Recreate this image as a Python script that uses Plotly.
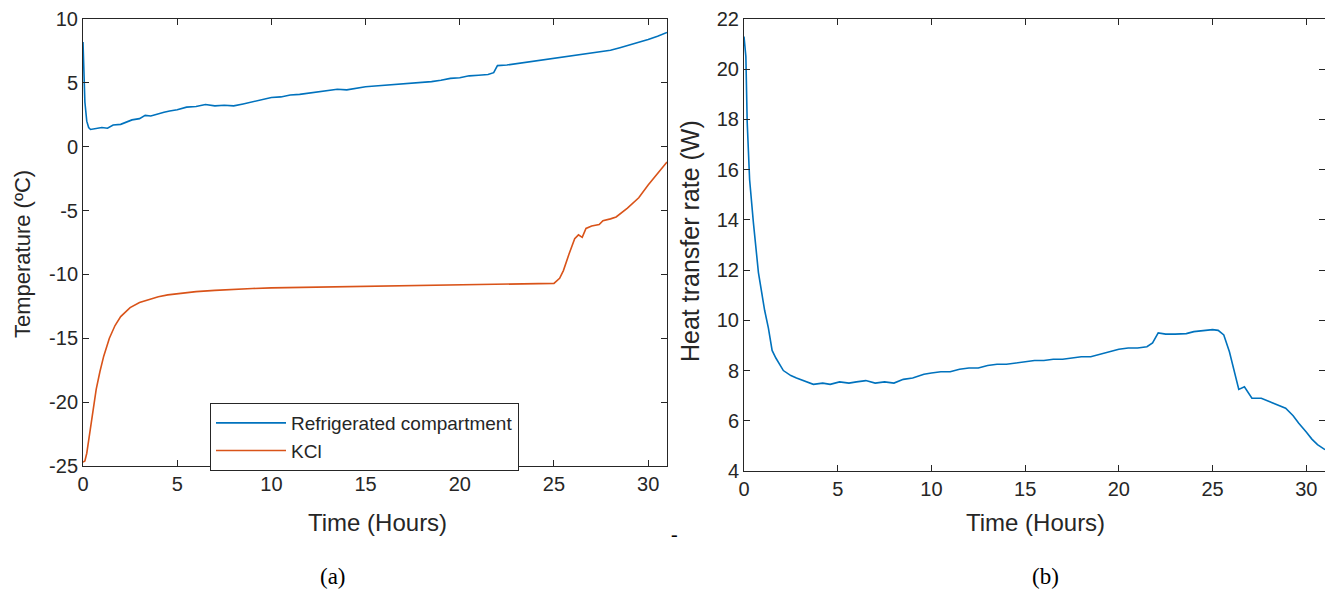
import plotly.graph_objects as go

# The page adds an 8 px body margin, so the figure is drawn 8 px in from the window corner.
OFF = 8
W, H = 1333 - OFF, 589 - OFF

# ---- Data ----
t_ref = [0, 0.05, 0.1, 0.2, 0.3, 0.4, 0.6, 0.8, 1.0, 1.3, 1.6, 2.0, 2.3, 2.6, 3.0, 3.3, 3.6, 4.0, 4.3, 4.6,
         5.0, 5.5, 6.0, 6.5, 7.0, 7.5, 8.0, 8.5, 9.0, 9.5, 10.0, 10.5, 11.0, 11.5, 12.0, 12.5, 13.0, 13.5,
         14.0, 14.5, 15.0, 15.5, 16.0, 16.5, 17.0, 17.5, 18.0, 18.5, 19.0, 19.5, 20.0, 20.5, 21.0, 21.5,
         21.8, 22.0, 22.5, 23.0, 23.5, 24.0, 24.5, 25.0, 25.5, 26.0, 26.5, 27.0, 27.5, 28.0, 28.5, 29.0,
         29.5, 30.0, 30.5, 31.0]
temp_ref = [8.2, 6.0, 3.5, 2.0, 1.5, 1.35, 1.4, 1.45, 1.5, 1.45, 1.7, 1.75, 1.95, 2.1, 2.2, 2.45, 2.4, 2.6, 2.7, 2.8,
            2.9, 3.1, 3.15, 3.3, 3.2, 3.25, 3.2, 3.35, 3.5, 3.7, 3.85, 3.9, 4.05, 4.1, 4.2, 4.3, 4.35, 4.5,
            4.45, 4.6, 4.7, 4.75, 4.8, 4.85, 4.9, 4.95, 5.0, 5.1, 5.2, 5.35, 5.4, 5.55, 5.6, 5.65,
            5.8, 6.35, 6.4, 6.5, 6.6, 6.7, 6.8, 6.9, 7.05, 7.1, 7.2, 7.35, 7.45, 7.55, 7.75, 7.95,
            8.15, 8.4, 8.65, 8.95]

t_kcl = [0, 0.1, 0.2, 0.3, 0.5, 0.7, 0.9, 1.1, 1.4, 1.7, 2.0, 2.5, 3.0, 3.5, 4.0, 4.5, 5.0, 6.0, 7.0, 8.0,
         9.0, 10.0, 12.0, 14.0, 16.0, 18.0, 20.0, 22.0, 24.0, 25.0, 25.3, 25.5, 25.8, 26.1, 26.3, 26.5,
         26.7, 27.0, 27.4, 27.6, 28.0, 28.3, 28.9, 29.5, 30.0, 30.5, 31.0]
temp_kcl = [-24.7, -24.6, -24.0, -23.0, -20.8, -19.0, -17.6, -16.4, -15.0, -14.0, -13.3, -12.6, -12.2, -11.95,
            -11.75, -11.6, -11.5, -11.35, -11.25, -11.15, -11.1, -11.05, -11.0, -10.95, -10.9, -10.85, -10.8,
            -10.8, -10.75, -10.7, -10.3, -9.7, -8.4, -7.2, -6.9, -7.1, -6.4, -6.2, -6.1, -5.8, -5.65, -5.5,
            -4.8, -4.0, -3.0, -2.1, -1.2]

t_q = [0, 0.1, 0.17, 0.3, 0.5, 0.77, 1.1, 1.3, 1.5, 1.7, 2.1, 2.5, 2.8, 3.2, 3.7, 4.2, 4.6, 5.1, 5.6, 6.0,
       6.5, 7.0, 7.5, 8.0, 8.5, 9.0, 9.6, 10.0, 10.5, 11.0, 11.5, 12.0, 12.5, 13.0, 13.5, 14.0, 14.5, 15.0,
       15.5, 16.0, 16.5, 17.0, 17.5, 18.0, 18.5, 19.0, 19.5, 20.0, 20.5, 21.0, 21.5, 21.8, 22.1, 22.5, 23.0,
       23.6, 24.0, 24.5, 25.0, 25.3, 25.6, 25.9, 26.2, 26.4, 26.7, 27.1, 27.6, 28.1, 28.5, 28.9, 29.3, 29.6,
       30.0, 30.3, 30.6, 31.0]
q_rate = [21.3, 20.5, 17.9, 15.6, 13.9, 11.9, 10.4, 9.7, 8.8, 8.5, 8.0, 7.8, 7.7, 7.6, 7.45, 7.5, 7.45, 7.55,
          7.5, 7.55, 7.6, 7.5, 7.55, 7.5, 7.65, 7.7, 7.85, 7.9, 7.95, 7.95, 8.05, 8.1, 8.1, 8.2, 8.25, 8.25,
          8.3, 8.35, 8.4, 8.4, 8.45, 8.45, 8.5, 8.55, 8.55, 8.65, 8.75, 8.85, 8.9, 8.9, 8.95, 9.1, 9.5, 9.45,
          9.45, 9.47, 9.55, 9.6, 9.63, 9.6, 9.42, 8.75, 7.8, 7.25, 7.35, 6.9, 6.9, 6.75, 6.65, 6.5, 6.2, 5.9,
          5.55, 5.27, 5.05, 4.85]

series_names = ["Refrigerated compartment", "KCl"]
x_ticks = [0, 5, 10, 15, 20, 25, 30]
y1_ticks = [10, 5, 0, -5, -10, -15, -20, -25]
y2_ticks = [4, 6, 8, 10, 12, 14, 16, 18, 20, 22]

BLUE = "#0072BD"
ORANGE = "#D95319"
AX = "#262626"
FONT = "Liberation Sans, Arial, sans-serif"
SERIF = "Liberation Serif, Times New Roman, serif"

fig = go.Figure()
fig.add_trace(go.Scatter(x=t_ref, y=temp_ref, mode="lines", name=series_names[0],
                         line=dict(color=BLUE, width=1.6), xaxis="x", yaxis="y"))
fig.add_trace(go.Scatter(x=t_kcl, y=temp_kcl, mode="lines", name=series_names[1],
                         line=dict(color=ORANGE, width=1.6), xaxis="x", yaxis="y"))
fig.add_trace(go.Scatter(x=t_q, y=q_rate, mode="lines", name="Heat transfer rate", showlegend=False,
                         line=dict(color=BLUE, width=1.6), xaxis="x2", yaxis="y2"))


def px_x(p):
    return (p - OFF) / W


def px_y(p):
    return 1 - (p - OFF) / H


common = dict(showline=True, linecolor=AX, linewidth=1, mirror="ticks", ticks="inside",
              ticklen=6, tickcolor=AX, tickwidth=1, showgrid=False, zeroline=False,
              tickfont=dict(family=FONT, size=20, color=AX), automargin=False,
              ticklabeloverflow="allow")

TOP = 19
fig.update_layout(
    width=W, height=H,
    margin=dict(l=0, r=0, t=0, b=0),
    paper_bgcolor="white", plot_bgcolor="white",
    xaxis=dict(domain=[px_x(83), px_x(667)], range=[0, 31], tickvals=x_ticks,
               ticktext=[str(v) for v in x_ticks], anchor="y", **common),
    yaxis=dict(domain=[px_y(466), px_y(TOP)], range=[-25, 10], tickvals=y1_ticks,
               ticktext=[str(v) for v in y1_ticks], anchor="x", **common),
    xaxis2=dict(domain=[px_x(744), px_x(1325)], range=[0, 31], tickvals=x_ticks,
                ticktext=[str(v) for v in x_ticks], anchor="y2", **common),
    yaxis2=dict(domain=[px_y(471), px_y(TOP)], range=[4, 22], tickvals=y2_ticks,
                ticktext=[str(v) for v in y2_ticks], anchor="x2", **common),
    legend=dict(x=px_x(210), y=px_y(403), xanchor="left", yanchor="top",
                bgcolor="white", bordercolor=AX, borderwidth=1, itemwidth=70,
                font=dict(family=FONT, size=19, color=AX), tracegroupgap=0),
    showlegend=True,
)

annos = [
    dict(text="Time (Hours)", x=px_x(377), y=px_y(522), font=dict(family=FONT, size=24, color=AX)),
    dict(text="Time (Hours)", x=px_x(1035), y=px_y(522), font=dict(family=FONT, size=24, color=AX)),
    dict(text="Temperature (ºC)", x=px_x(22), y=px_y(254), textangle=-90, font=dict(family=FONT, size=22, color=AX)),
    dict(text="Heat transfer rate (W)", x=px_x(690), y=px_y(241), textangle=-90, font=dict(family=FONT, size=25, color=AX)),
    dict(text="(a)", x=px_x(333), y=px_y(576), font=dict(family=SERIF, size=23, color="black")),
    dict(text="(b)", x=px_x(1045), y=px_y(576), font=dict(family=SERIF, size=23, color="black")),
    dict(text="-", x=px_x(674), y=px_y(534), font=dict(family=SERIF, size=20, color="black")),
]
for a in annos:
    fig.add_annotation(xref="paper", yref="paper", showarrow=False, xanchor="center", yanchor="middle", **a)

fig.write_html("out.html")
